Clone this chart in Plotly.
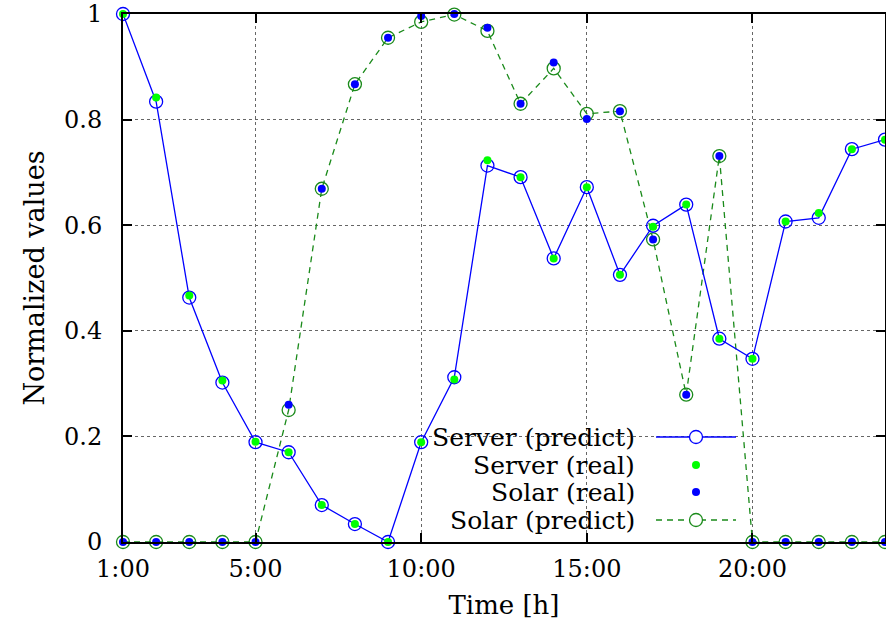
import plotly.graph_objects as go

hours = list(range(1, 25))
server_predict = [1.0, 0.834, 0.463, 0.302, 0.189, 0.170, 0.070, 0.034, 0.0, 0.189, 0.312, 0.713,
                  0.691, 0.537, 0.672, 0.506, 0.599, 0.639, 0.385, 0.347, 0.607, 0.614, 0.744, 0.762]
server_real = [1.0, 0.842, 0.467, 0.306, 0.190, 0.170, 0.070, 0.034, 0.0, 0.189, 0.308, 0.723,
               0.691, 0.537, 0.672, 0.506, 0.597, 0.639, 0.385, 0.347, 0.607, 0.623, 0.744, 0.762]
solar_predict = [0, 0, 0, 0, 0, 0.250, 0.669, 0.867, 0.955, 0.985, 0.999, 0.968,
                 0.830, 0.897, 0.811, 0.816, 0.573, 0.279, 0.731, 0, 0, 0, 0, 0]
solar_real = [0, 0, 0, 0, 0, 0.260, 0.669, 0.867, 0.955, 0.996, 1.0, 0.974,
              0.830, 0.908, 0.801, 0.816, 0.573, 0.279, 0.731, 0, 0, 0, 0, 0]

x_tickvals = [1, 5, 10, 15, 20]
x_ticktext = ["1:00", "5:00", "10:00", "15:00", "20:00"]
y_tickvals = [0, 0.2, 0.4, 0.6, 0.8, 1]
y_ticktext = ["0", "0.2", "0.4", "0.6", "0.8", "1"]

legend_labels = ["Server (predict)", "Server (real)", "Solar (real)", "Solar (predict)"]

BLUE = "#0000ff"
LGREEN = "#00ff00"
DGREEN = "#1a8a1a"
FONT = "DejaVu Serif"

fig = go.Figure()
fig.add_trace(go.Scatter(x=hours, y=solar_predict, mode="lines+markers", cliponaxis=False,
                         line=dict(color=DGREEN, width=1.3, dash="6px,5px"),
                         marker=dict(symbol="circle-open", size=13, color=DGREEN, line=dict(width=1.3))))
fig.add_trace(go.Scatter(x=hours, y=solar_real, mode="markers", cliponaxis=False,
                         marker=dict(symbol="circle", size=8, color=BLUE)))
fig.add_trace(go.Scatter(x=hours, y=server_predict, mode="lines+markers", cliponaxis=False,
                         line=dict(color=BLUE, width=1.3),
                         marker=dict(symbol="circle-open", size=13, color=BLUE, line=dict(width=1.3))))
fig.add_trace(go.Scatter(x=hours, y=server_real, mode="markers", cliponaxis=False,
                         marker=dict(symbol="circle", size=8, color=LGREEN)))

# plot geometry helpers (paper coordinates)
L, R, T, B = 123, 1, 14, 95
W, H = 886, 637
pw, ph = W - L - R, H - T - B
def px(xp):
    return (xp - L) / pw
def py(yp):
    return (H - B - yp) / ph

shapes = []
# opaque key box (between grid and data)
shapes.append(dict(type="rect", xref="paper", yref="paper", x0=px(362), x1=px(752),
                   y0=py(532), y1=py(420), fillcolor="white", line=dict(width=0), layer="between"))
annotations = []
rows = [437, 465, 492, 520]
styles = [("line_circle", BLUE, None), ("dot", LGREEN, None), ("dot", BLUE, None), ("line_circle", DGREEN, "6px,5px")]
for label, yy, (kind, col, dash) in zip(legend_labels, rows, styles):
    annotations.append(dict(text=label, xref="paper", yref="paper", x=px(637), y=py(yy),
                            xanchor="right", yanchor="middle", showarrow=False,
                            font=dict(family=FONT, size=25, color="black")))
    if kind == "line_circle":
        shapes.append(dict(type="line", xref="paper", yref="paper", x0=px(656), x1=px(736),
                           y0=py(yy), y1=py(yy), line=dict(color=col, width=1.3, dash=dash or "solid")))
        shapes.append(dict(type="circle", xref="paper", yref="paper", xsizemode="pixel", ysizemode="pixel",
                           xanchor=px(696), yanchor=py(yy), x0=-6.5, x1=6.5, y0=-6.5, y1=6.5,
                           line=dict(color=col, width=1.3), fillcolor="white"))
    else:
        shapes.append(dict(type="circle", xref="paper", yref="paper", xsizemode="pixel", ysizemode="pixel",
                           xanchor=px(696), yanchor=py(yy), x0=-4, x1=4, y0=-4, y1=4,
                           line=dict(width=0), fillcolor=col))

axis_common = dict(showline=True, linecolor="black", linewidth=2, mirror="ticks",
                   ticks="inside", ticklen=9, tickwidth=1.5, tickcolor="black",
                   showgrid=True, gridcolor="#666666", griddash="dot", gridwidth=1.2,
                   zeroline=False, ticklabeloverflow="allow", automargin=False,
                   tickfont=dict(family=FONT, size=24, color="black"))

fig.update_layout(
    width=W, height=H, margin=dict(l=L, r=R, t=T, b=B),
    plot_bgcolor="white", paper_bgcolor="white", showlegend=False,
    shapes=shapes, annotations=annotations,
    xaxis=dict(range=[1, 24], tickvals=x_tickvals, ticktext=x_ticktext,
               title=dict(text="Time [h]", font=dict(family=FONT, size=26, color="black"), standoff=14),
               ticklabelstandoff=4, **axis_common),
    yaxis=dict(range=[0, 1], tickvals=y_tickvals, ticktext=y_ticktext,
               title=dict(text="Normalized values", font=dict(family=FONT, size=27, color="black"), standoff=12),
               ticklabelstandoff=14, **axis_common),
)

fig.write_html("out.html")
